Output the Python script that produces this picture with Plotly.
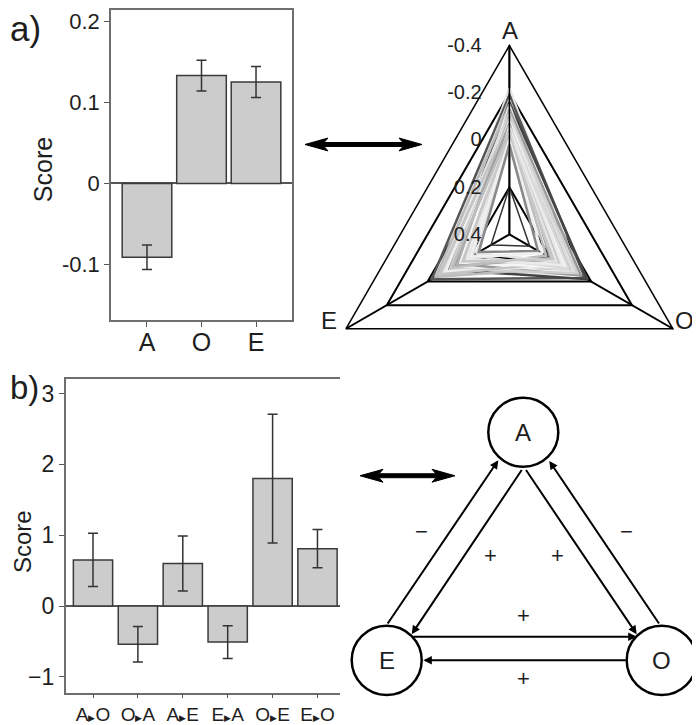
import plotly.graph_objects as go

# The page body has an 8px margin; the figure fills the rest of the 700x725 window.
OFF = 8
W, H = 700 - OFF, 725 - OFF

# ---------------- data ----------------
cat_a = ["A", "O", "E"]
score_a = [-0.091, 0.133, 0.125]
err_a = [0.015, 0.019, 0.019]
ticks_a = [-0.1, 0, 0.1, 0.2]
ticktext_a = ["-0.1", "0", "0.1", "0.2"]

cat_b = ["A>O", "O>A", "A>E", "E>A", "O>E", "E>O"]
score_b = [0.65, -0.54, 0.60, -0.51, 1.80, 0.81]
err_b = [0.376, 0.25, 0.388, 0.23, 0.91, 0.27]
ticks_b = [-1, 0, 1, 2, 3]

radar_axes = ["A", "O", "E"]
radar_ticks = [-0.4, -0.2, 0, 0.2, 0.4]
radar_ticktext = ["-0.4", "-0.2", "0", "0.2", "0.4"]
profile_A = [-0.22, -0.19, -0.17, -0.16, -0.15, -0.14, -0.13, -0.12, -0.12, -0.11, -0.10, -0.10,
             -0.09, -0.08, -0.08, -0.07, -0.06, -0.05, -0.04, -0.03, -0.02, 0.00, 0.02, 0.20]
profile_O = [0.06, 0.03, 0.10, 0.02, 0.12, 0.08, 0.05, 0.15, 0.10, 0.07, 0.13, 0.18,
             0.09, 0.16, 0.12, 0.20, 0.11, 0.14, 0.22, 0.17, 0.19, 0.24, 0.26, 0.30]
profile_E = [0.08, 0.02, 0.05, 0.10, 0.04, 0.12, 0.15, 0.07, 0.18, 0.11, 0.09, 0.14,
             0.20, 0.06, 0.16, 0.13, 0.22, 0.19, 0.12, 0.24, 0.17, 0.21, 0.25, 0.31]
profile_gray = ["#e6e6e6", "#555555", "#d0d0d0", "#444444", "#bbbbbb", "#f2f2f2", "#999999", "#e0e0e0",
                "#aaaaaa", "#cfcfcf", "#eeeeee", "#b5b5b5", "#dddddd", "#c4c4c4", "#f5f5f5", "#a0a0a0",
                "#d8d8d8", "#ebebeb", "#bdbdbd", "#e4e4e4", "#c8c8c8", "#f0f0f0", "#888888", "#333333"]

FONT = "Liberation Sans, Arial, Helvetica, sans-serif"
TXT = "#1e1e1e"


def px(x):
    return (x - OFF) / W


def py(y):
    return 1 - (y - OFF) / H


def arrow_label(c):
    a, b = c.split(">")
    return f"{a}<span style='font-size:9px'>\u25b6</span>{b}"


fig = go.Figure()

# ---------------- panel a: bars ----------------
fig.add_trace(go.Bar(
    x=cat_a, y=score_a, width=0.91,
    marker=dict(color="#cccccc", line=dict(color="#3a3a3a", width=1.5)),
    error_y=dict(type="data", array=err_a, color="#333333", thickness=1.5, width=5),
    xaxis="x", yaxis="y", showlegend=False))

# ---------------- panel b: bars ----------------
fig.add_trace(go.Bar(
    x=cat_b, y=score_b, width=0.875,
    marker=dict(color="#cccccc", line=dict(color="#3a3a3a", width=1.5)),
    error_y=dict(type="data", array=err_b, color="#333333", thickness=1.5, width=5),
    xaxis="x2", yaxis="y2", showlegend=False))

# ---------------- panel a: radar ----------------
for i, (a, o, e, g) in enumerate(zip(profile_A, profile_O, profile_E, profile_gray)):
    fig.add_trace(go.Scatterpolar(
        r=[a, o, e, a], theta=radar_axes + radar_axes[:1], mode="lines",
        line=dict(color=g, width=1.5 if i == len(profile_A) - 1 else 2.5),
        showlegend=False, hoverinfo="skip"))

axis_common = dict(showline=True, mirror=True, linecolor="#6e6e6e", linewidth=1.5,
                   ticks="outside", ticklen=5, tickcolor="#555555", tickwidth=1.2,
                   showgrid=False)

fig.update_layout(
    width=W, height=H, margin=dict(l=0, r=0, t=0, b=0),
    paper_bgcolor="white", plot_bgcolor="white",
    font=dict(family=FONT, color=TXT),
    xaxis=dict(domain=[px(111), px(292)], range=[-0.66, 2.66], anchor="y",
               ticklabelstandoff=-6,
               tickfont=dict(family=FONT, size=25, color=TXT), **axis_common),
    yaxis=dict(domain=[py(322), 1.0], range=[-0.169, 0.2138], anchor="x",
               tickvals=ticks_a, ticktext=ticktext_a,
               zeroline=True, zerolinecolor="#555555", zerolinewidth=1.5,
               tickfont=dict(family=FONT, size=22, color=TXT), **axis_common),
    xaxis2=dict(domain=[px(65.7), px(343.3)], range=[-0.608, 5.575], anchor="y2",
                tickvals=cat_b, ticktext=[arrow_label(c) for c in cat_b], ticklen=4,
                tickfont=dict(family=FONT, size=19, color=TXT),
                **{k: v for k, v in axis_common.items() if k != "ticklen"}),
    yaxis2=dict(domain=[py(698.3), py(380.7)], range=[-1.223, 3.213], anchor="x2",
                tickvals=ticks_b,
                zeroline=True, zerolinecolor="#555555", zerolinewidth=1.5,
                tickfont=dict(family=FONT, size=23, color=TXT), **axis_common),
    xaxis3=dict(domain=[px(340), 1], range=[340, 700], visible=False, anchor="y3"),
    yaxis3=dict(domain=[0, py(370)], range=[725, 370], visible=False, anchor="x3"),
    polar=dict(
        domain=dict(x=[px(318.8), 1], y=[py(425.8), py(44)]),
        gridshape="linear", bgcolor="rgba(0,0,0,0)",
        angularaxis=dict(type="category", categoryarray=radar_axes, rotation=90,
                         direction="clockwise", linecolor="black", linewidth=1.5,
                         showgrid=True, gridcolor="black", gridwidth=1.5, ticks="",
                         showticklabels=False),
        radialaxis=dict(range=[0.4, -0.4], angle=90, tickangle=90, side="counterclockwise",
                        tickvals=radar_ticks, ticktext=radar_ticktext,
                        showline=True, linecolor="black", linewidth=1.5,
                        showgrid=True, gridcolor="black", gridwidth=1.5,
                        ticks="outside", ticklen=20, tickcolor="rgba(0,0,0,0)",
                        tickfont=dict(family=FONT, size=20, color=TXT)),
    ),
)

# radar axis names
for name, x, y, anchor in [("A", 510, 29, "center"), ("O", 673, 322, "left"), ("E", 339, 322, "right")]:
    fig.add_annotation(text=name, x=px(x), y=py(y), xref="paper", yref="paper", xanchor=anchor,
                       yanchor="middle", showarrow=False, font=dict(family=FONT, size=24, color=TXT))

# y-axis titles
for x, y, s in [(43, 170, 25), (23, 546, 24)]:
    fig.add_annotation(text="Score", x=px(x), y=py(y), xref="paper", yref="paper", textangle=-90,
                       xanchor="center", yanchor="middle",
                       showarrow=False, font=dict(family=FONT, size=s, color=TXT))

# ---------------- panel labels ----------------
fig.add_annotation(text="a)", x=px(8), y=py(27), xref="paper", yref="paper", xanchor="left",
                   yanchor="middle", showarrow=False, font=dict(family=FONT, size=35, color=TXT))
fig.add_annotation(text="b)", x=px(8), y=py(390), xref="paper", yref="paper", xanchor="left",
                   yanchor="middle", showarrow=False, font=dict(family=FONT, size=33, color=TXT))


# ---------------- double arrows between panels ----------------
def double_arrow(x0, x1, y, hl=23, hw=6.5, lw=2.0):
    pts = [(x0, y), (x0 + hl, y - hw), (x0 + hl - 4, y - lw), (x1 - hl + 4, y - lw), (x1 - hl, y - hw),
           (x1, y), (x1 - hl, y + hw), (x1 - hl + 4, y + lw), (x0 + hl - 4, y + lw), (x0 + hl, y + hw)]
    path = "M " + " L ".join(f"{px(a):.5f},{py(b):.5f}" for a, b in pts) + " Z"
    fig.add_shape(type="path", path=path, xref="paper", yref="paper",
                  fillcolor="black", line=dict(color="black", width=1))


double_arrow(305, 422, 144)
double_arrow(360, 455, 479)

# ---------------- panel b: schematic ----------------
nodes = {"A": (523.3, 435.0), "E": (386.7, 665.7), "O": (661.7, 665.7)}
node_r = 35
for name, (cx, cy) in nodes.items():
    fig.add_shape(type="circle", xref="x3", yref="y3", x0=cx - node_r, x1=cx + node_r,
                  y0=cy - node_r, y1=cy + node_r, line=dict(color="black", width=2.5),
                  fillcolor="white")
    fig.add_annotation(text=name, x=cx, y=cy, xref="x3", yref="y3", showarrow=False,
                       font=dict(family=FONT, size=24, color=TXT))

arrows = [  # (tail_x, tail_y, head_x, head_y)
    (386.7, 630.0, 498.3, 463.3),   # E -> A (outer)
    (522.7, 471.7, 411.7, 639.3),   # A -> E (inner)
    (525.0, 471.7, 636.7, 639.3),   # A -> O (inner)
    (660.0, 630.0, 549.3, 464.0),   # O -> A (outer)
    (411.7, 641.7, 636.7, 641.7),   # E -> O
    (627.3, 665.7, 423.3, 665.7),   # O -> E
]
for tx, ty, hx, hy in arrows:
    fig.add_annotation(x=hx, y=hy, ax=tx, ay=ty, xref="x3", yref="y3", axref="x3", ayref="y3",
                       text="", showarrow=True, arrowhead=2, arrowsize=0.85, arrowwidth=2,
                       arrowcolor="black")

signs = [("\u2212", 421.7, 535.7), ("\u2212", 626.0, 535.7), ("+", 490.0, 560.0),
         ("+", 557.3, 560.0), ("+", 523.3, 620.7), ("+", 523.3, 684.3)]
for s, x, y in signs:
    fig.add_annotation(text=s, x=x, y=y, xref="x3", yref="y3", showarrow=False,
                       font=dict(family=FONT, size=22, color=TXT))

fig.write_html("out.html")
